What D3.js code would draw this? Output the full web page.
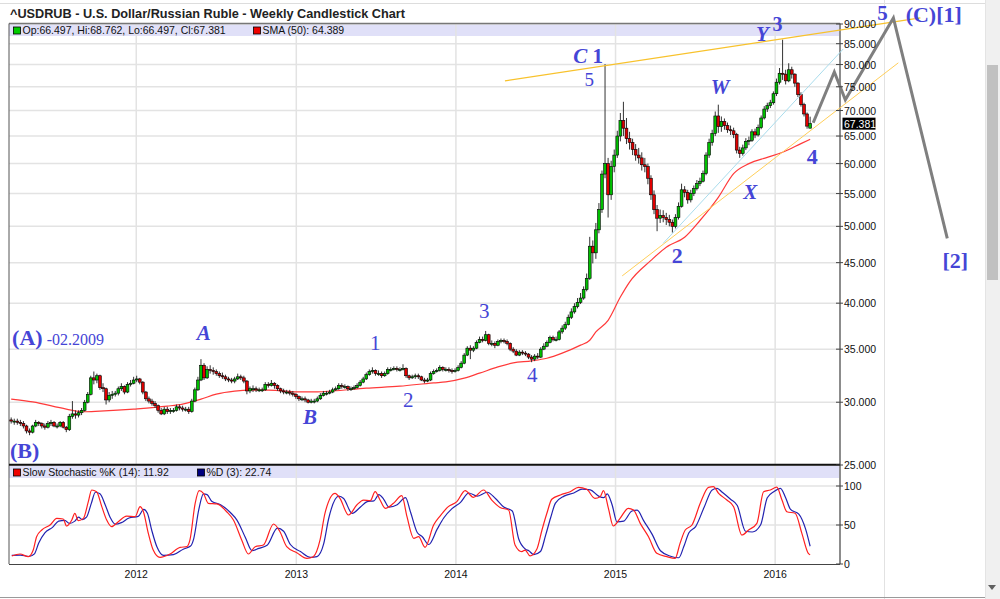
<!DOCTYPE html>
<html><head><meta charset="utf-8">
<script src="https://cdn.jsdelivr.net/npm/d3@7"></script>
<style>html,body{margin:0;padding:0;background:#fff;overflow:hidden}</style>
</head><body>
<svg id="c" width="1000" height="599"></svg>
<script>
// ---------- DATA ----------
const weekStart = Date.UTC(2011, 2, 21); // Monday of first weekly candle
const opens = [
28.5,28.4,28.4,28.3,28.2,28.0,27.6,27.5,28.0,28.3,
28.2,28.0,27.9,28.2,28.3,28.0,28.0,28.3,27.9,27.7,
28.8,29.0,28.9,29.1,29.3,30.0,30.7,32.2,32.0,32.4,
31.3,31.2,30.2,30.6,30.7,30.8,31.2,31.4,30.9,31.6,
31.7,32.0,32.1,31.8,30.9,30.3,30.1,29.9,29.7,29.3,
29.0,29.4,29.2,29.3,29.3,29.6,29.5,29.4,29.4,29.2,
30.1,31.1,32.0,33.4,32.2,33.0,32.9,32.8,32.6,32.4,
32.3,32.1,32.0,31.9,32.1,32.3,32.2,31.9,31.0,31.2,
31.2,31.1,31.1,31.1,31.6,31.5,31.7,31.5,31.2,31.0,
30.9,30.9,30.8,30.7,30.5,30.3,30.3,30.2,30.0,30.1,
30.1,30.3,30.6,30.8,30.8,30.9,31.1,31.2,31.5,31.4,
31.4,31.2,31.2,31.3,31.5,31.8,32.1,32.5,32.8,32.9,
32.6,32.6,32.4,32.6,33.0,33.0,33.1,33.0,33.0,33.1,
32.4,32.2,32.3,32.4,32.3,32.0,31.9,32.0,32.6,32.8,
32.9,33.2,33.0,33.0,32.9,32.8,32.9,33.2,33.6,34.4,
35.1,34.9,35.1,35.7,36.0,35.9,36.5,35.6,35.6,35.4,
35.8,35.9,35.8,35.6,35.0,34.8,34.4,34.7,34.6,34.5,
34.2,34.0,34.3,34.2,35.0,35.3,35.7,36.2,36.0,36.0,
36.8,37.2,37.6,38.4,39.0,39.6,40.1,40.6,41.6,43.0,
47.2,46.3,49.5,52.5,58.2,60.0,54.8,59.5,61.5,65.0,
68.0,66.5,64.5,63.8,62.5,61.5,61.0,59.8,59.5,57.5,
54.8,52.5,51.2,51.6,51.3,51.0,50.6,50.0,51.3,53.0,
55.6,55.2,54.0,55.0,55.8,56.6,57.0,58.3,61.5,63.8,
65.5,68.9,66.8,67.8,67.0,66.2,66.0,65.3,62.4,61.8,
62.8,64.0,64.2,65.8,65.2,66.6,68.5,70.3,71.0,71.6,
73.5,76.0,78.0,77.8,76.3,78.8,77.8,75.8,73.3,71.2,
69.3,66.497];
const highs = [
28.7,28.6,28.6,28.5,28.4,28.1,27.8,28.1,28.5,28.4,
28.3,28.2,28.4,28.5,28.4,28.2,28.4,28.4,28.0,29.0,
30.1,29.3,29.3,29.5,30.2,30.9,32.4,32.8,32.6,32.5,
31.7,31.3,30.9,31.0,31.0,31.4,31.7,31.5,31.8,32.0,
32.3,32.4,32.2,31.9,31.0,30.5,30.3,30.1,29.8,29.5,
29.6,29.6,29.5,29.5,29.8,29.8,29.7,29.6,29.6,30.3,
31.3,32.3,34.0,33.6,33.3,33.4,33.2,33.0,32.8,32.7,
32.5,32.3,32.2,32.3,32.6,32.5,32.4,32.0,31.4,31.5,
31.4,31.3,31.3,31.8,31.8,32.0,31.8,31.6,31.3,31.2,
31.1,31.1,31.0,30.8,30.6,30.5,30.5,30.3,30.3,30.3,
30.5,30.8,31.0,31.0,31.1,31.3,31.4,31.7,31.7,31.6,
31.5,31.4,31.5,31.7,32.0,32.3,32.7,33.0,33.2,33.0,
32.9,32.8,32.8,33.2,33.2,33.3,33.3,33.2,33.5,33.2,
32.5,32.5,32.6,32.6,32.4,32.2,32.2,32.8,33.0,33.1,
33.4,33.3,33.2,33.2,33.1,33.1,33.4,33.8,34.6,35.3,
35.4,35.3,35.9,36.3,36.3,36.9,36.6,35.9,35.8,36.0,
36.1,36.1,36.0,35.7,35.2,35.0,34.9,34.9,34.8,34.6,
34.4,34.5,34.6,35.2,35.6,35.9,36.4,36.4,36.3,37.0,
37.5,37.9,38.7,39.4,40.0,40.6,41.2,42.0,43.6,48.5,
48.0,50.5,53.5,58.8,80.1,61.0,60.5,62.5,66.0,69.5,
71.8,68.5,65.8,64.5,63.5,62.8,62.0,61.0,60.0,58.0,
55.5,53.2,52.5,52.4,52.0,51.7,51.0,51.8,53.6,56.6,
56.2,55.6,55.6,56.3,57.2,57.6,58.8,62.0,64.5,66.2,
69.8,71.2,68.8,68.4,67.6,67.0,66.6,65.6,63.0,63.4,
64.6,64.9,66.3,66.4,67.2,69.0,70.9,71.6,72.2,74.0,
76.8,79.2,86.0,78.8,80.3,79.5,78.0,76.0,73.8,71.6,
69.6,68.762];
const lows = [
28.2,28.1,28.1,28.0,27.8,27.4,27.26,27.4,27.9,28.0,
27.8,27.7,27.8,28.0,27.9,27.8,27.9,27.8,27.5,27.6,
28.6,28.6,28.7,28.9,29.2,29.9,30.6,31.6,31.7,31.1,
30.9,29.8,30.0,30.3,30.5,30.6,31.0,30.7,30.8,31.4,
31.6,31.8,31.6,30.7,30.1,29.9,29.7,29.5,29.1,28.9,
28.9,29.0,29.0,29.1,29.2,29.3,29.2,29.2,29.0,29.1,
30.0,31.0,31.9,32.0,32.1,32.6,32.5,32.4,32.2,32.1,
31.9,31.8,31.7,31.7,32.0,32.0,31.7,30.7,30.8,30.9,
30.9,30.9,30.9,31.0,31.3,31.4,31.2,31.0,30.8,30.7,
30.7,30.6,30.5,30.3,30.1,30.1,30.0,29.9,29.9,29.9,
30.0,30.2,30.5,30.6,30.7,30.8,31.0,31.1,31.2,31.2,
31.0,31.0,31.1,31.2,31.4,31.7,32.0,32.4,32.6,32.4,
32.4,32.2,32.3,32.5,32.8,32.9,32.8,32.8,32.9,32.2,
32.0,32.1,32.1,32.1,31.9,31.7,31.8,31.9,32.5,32.7,
32.8,32.8,32.8,32.7,32.6,32.7,32.8,33.1,33.5,34.3,
34.0,34.7,35.0,35.6,35.7,35.8,35.4,35.3,35.1,35.3,
35.6,35.6,35.4,34.8,34.6,34.3,34.3,34.4,34.3,34.0,
33.7,33.8,34.0,34.1,34.9,35.2,35.6,35.8,35.8,35.9,
36.6,37.0,37.5,38.2,38.8,39.4,39.9,40.4,41.4,42.8,
44.9,45.5,49.0,52.0,57.5,51.3,54.0,58.5,61.0,64.0,
65.0,63.5,62.5,61.5,60.5,60.0,58.8,58.5,56.5,54.0,
51.8,49.3,50.5,50.6,50.2,50.0,49.1,49.7,51.0,52.8,
54.4,53.4,53.6,54.6,55.5,56.2,56.8,58.0,61.0,63.2,
65.0,65.6,65.8,66.2,65.6,65.2,64.6,61.8,61.0,61.4,
62.4,63.3,63.9,64.6,64.9,66.3,68.2,69.7,70.5,71.2,
73.0,75.5,76.5,75.5,76.0,76.8,75.0,72.8,70.8,68.8,
66.4,66.497];
const closes = [
28.4,28.4,28.3,28.2,28.0,27.6,27.5,28.0,28.3,28.2,
28.0,27.9,28.2,28.3,28.0,28.0,28.3,27.9,27.7,28.8,
29.0,28.9,29.1,29.3,30.0,30.7,32.2,32.0,32.4,31.3,
31.2,30.2,30.6,30.7,30.8,31.2,31.4,30.9,31.6,31.7,
32.0,32.1,31.8,30.9,30.3,30.1,29.9,29.7,29.3,29.0,
29.4,29.2,29.3,29.3,29.6,29.5,29.4,29.4,29.2,30.1,
31.1,32.0,33.4,32.2,33.0,32.9,32.8,32.6,32.4,32.3,
32.1,32.0,31.9,32.1,32.3,32.2,31.9,31.0,31.2,31.2,
31.1,31.1,31.1,31.6,31.5,31.7,31.5,31.2,31.0,30.9,
30.9,30.8,30.7,30.5,30.3,30.3,30.2,30.0,30.1,30.1,
30.3,30.6,30.8,30.8,30.9,31.1,31.2,31.5,31.4,31.4,
31.2,31.2,31.3,31.5,31.8,32.1,32.5,32.8,32.9,32.6,
32.6,32.4,32.6,33.0,33.0,33.1,33.0,33.0,33.1,32.4,
32.2,32.3,32.4,32.3,32.0,31.9,32.0,32.6,32.8,32.9,
33.2,33.0,33.0,32.9,32.8,32.9,33.2,33.6,34.4,35.1,
34.9,35.1,35.7,36.0,35.9,36.5,35.6,35.6,35.4,35.8,
35.9,35.8,35.6,35.0,34.8,34.4,34.7,34.6,34.5,34.2,
34.0,34.3,34.2,35.0,35.3,35.7,36.2,36.0,36.0,36.8,
37.2,37.6,38.4,39.0,39.6,40.1,40.6,41.6,43.0,47.2,
46.3,49.5,52.5,58.2,60.0,54.8,59.5,61.5,65.0,68.0,
66.5,64.5,63.8,62.5,61.5,61.0,59.8,59.5,57.5,54.8,
52.5,51.2,51.6,51.3,51.0,50.6,50.0,51.3,53.0,55.6,
55.2,54.0,55.0,55.8,56.6,57.0,58.3,61.5,63.8,65.5,
68.9,66.8,67.8,67.0,66.2,66.0,65.3,62.4,61.8,62.8,
64.0,64.2,65.8,65.2,66.6,68.5,70.3,71.0,71.6,73.5,
76.0,78.0,77.8,76.3,78.8,77.8,75.8,73.3,71.2,69.3,
66.9,67.381];

const smaWeeks  = [0,7,18,23.5,29,40,51,56,62,67,73,78,84,89,94,100,105,116,127,138,142,148,153,159,164,170,175,180,186,189,191,195,199,202,209,214,220,225,231,236,241,247,252,258,261];
const smaValues = [30.27,30.03,29.41,29.18,29.24,29.41,29.66,29.84,30.27,30.71,30.98,31.07,31.07,31.0,30.92,30.92,31.0,31.25,31.43,31.74,31.82,32.17,32.64,33.24,33.63,33.83,34.09,34.6,35.41,35.92,36.79,38.06,40.72,42.53,45.29,47.07,48.45,50.86,54.4,58.28,60.0,61.1,62.0,63.58,64.389];

const stochK = [[0.2,10.3],[2.9,12.8],[5.6,9.4],[7.2,17.9],[8.3,35],[10,43.6],[12.7,50],[14.9,58.5],[17,57.7],[18.1,48.7],[19.8,56.4],[20.8,65],[21.9,55.5],[23.6,58.5],[25.2,80],[26.3,94.9],[27.9,92.7],[29.6,73.5],[31.2,56.4],[32.8,47.9],[35,54.3],[37.7,61.5],[40.5,60.7],[42.1,73.5],[43.2,67],[44.8,39.3],[46.4,17.9],[48.6,8.5],[51.9,12.8],[55.2,21.4],[57.4,22.2],[58.4,30.8],[60.1,77.8],[61.4,94],[62.8,90.6],[64.4,77.8],[67.2,77],[70.4,67],[72.6,56.4],[75.3,30.8],[77.5,12.8],[79.7,22.2],[82.4,24.4],[85.7,51.3],[87.8,41.4],[90,22.2],[93.3,14.5],[96.6,7.3],[98.7,9.4],[100.9,30.8],[102.5,65],[105.8,90.6],[107.4,84.2],[110.2,62.8],[112.9,75.6],[115.1,82],[117.3,81.2],[118.9,92.7],[120.5,82],[122.2,71.4],[124.9,77.8],[127.6,87.6],[129.3,60.7],[131.5,32.9],[133.1,35],[135.2,21.4],[138,50],[140.1,61.5],[142.8,73.5],[145.6,80],[148.3,94],[151,85.5],[154.3,94.9],[157,82],[159.7,72.5],[162.5,69.2],[164.6,24.4],[166.8,15.8],[167.9,17.9],[169.5,10.3],[171.7,18.8],[173.4,43.6],[175,65],[176.6,83],[179.4,88.5],[182.6,92.7],[185.3,98.3],[188,95.8],[190.7,84.2],[192.4,86.3],[193.5,94],[195.1,71.4],[196.7,48.7],[198.9,58.5],[201.6,71.4],[203.3,69.2],[205.5,52.1],[208.2,35],[210.9,13.7],[214.2,9.4],[216.9,7.3],[218.5,26.5],[220.2,43.6],[222.4,50],[225.1,77.8],[227.8,98.3],[229.4,99.1],[231.1,90.6],[233.8,82],[236,73.5],[238.7,37.2],[240.9,43.6],[243.6,52.1],[245.8,92.7],[248,94.9],[250.1,98.5],[251.8,82],[253.4,67],[256.1,65],[258.3,39.3],[260.4,13.7],[261,11.92]];
const stochD = [[0.2,11],[3,11.5],[5.8,9.6],[7.6,13],[9,27],[11,40],[13.5,47],[15.5,55],[17.5,56],[19,52],[20.8,55],[22,60],[23.2,57],[24.6,60],[26.2,78],[27.5,92],[29,90],[30.8,75],[32.3,60],[34,51],[36,53],[38.5,59],[41.5,61],[43.3,70],[44.5,65],[46,42],[47.6,22],[49.8,11],[53,12],[56.2,19],[58.6,23],[59.6,32],[61.3,70],[62.8,90],[64,89],[65.6,80],[68.4,76],[71.6,66],[73.8,56],[76.5,34],[78.7,17],[80.9,20],[83.6,24],[87,46],[89,42],[91.2,25],[94.5,16],[97.8,8.5],[99.9,9.5],[102.1,26],[103.7,58],[107,87],[108.6,84],[111.4,65],[114.1,73],[116.3,80],[118.5,81],[120.1,89],[121.7,83],[123.4,73],[126.1,76],[128.8,85],[130.5,66],[132.7,40],[134.3,35],[136.4,25],[139.2,45],[141.3,59],[144,71],[146.8,79],[149.5,91],[152.2,87],[155.5,92],[158.2,84],[160.9,73],[163.7,68],[165.8,32],[168,19],[169.1,17],[170.7,12],[172.9,16],[174.6,37],[176.2,59],[177.8,78],[180.6,87],[183.8,91],[186.5,96],[189.2,95],[191.9,87],[193.6,85],[194.7,90],[196.3,76],[197.9,54],[200.1,55],[202.8,68],[204.5,69],[206.7,55],[209.4,38],[212.1,17],[215.4,10],[218.1,8],[219.7,22],[221.4,40],[223.6,48],[226.3,72],[229,95],[230.6,97],[232.3,92],[235,83],[237.2,75],[239.9,42],[242.1,41],[244.8,50],[247,85],[249.2,93],[251.3,97],[253,85],[254.6,70],[257.3,64],[259.5,45],[261,22.74]];

const priceTicks = [25,30,35,40,45,50,55,60,65,70,75,80,85,90];
const stochTicks = [0,50,100];
const yearTicks = [2012,2013,2014,2015,2016];

// overlay lines in (week index, price)
const topLine = [[161.3,76.3],[297,91.6]];
const supportLine = [[199.6,43.3],[289.8,80.4]];
const channelLine = [[213,47.6],[271.8,83.7]];
const projection = [[262,67.56],[268.9,78.3],[272.5,72.2],[288.2,91.6],[305.8,48.3]];

const waveLabels = [
 {w:0.3, p:35.4, a:'start', parts:[['(A)',22,'bold','normal'],[' -02.2009',16,'normal','normal']]},
 {w:62.9, p:35.9, a:'middle', parts:[['A',21,'bold','italic']]},
 {w:-0.4, p:25.5, a:'start', parts:[['(B)',22,'bold','normal']]},
 {w:97.6, p:28.15, a:'middle', parts:[['B',21,'bold','italic']]},
 {w:118.9, p:34.9, a:'middle', parts:[['1',21,'normal','normal']]},
 {w:129.7, p:29.58, a:'middle', parts:[['2',21,'normal','normal']]},
 {w:154.5, p:38.28, a:'middle', parts:[['3',21,'normal','normal']]},
 {w:170.2, p:31.8, a:'middle', parts:[['4',21,'normal','normal']]},
 {w:188.5, p:80.4, a:'middle', parts:[['C',21,'bold','italic'],[' 1',21,'bold','normal']]},
 {w:188.8, p:75.2, a:'middle', parts:[['5',19,'normal','normal']]},
 {w:231.6, p:73.5, a:'middle', parts:[['W',21,'bold','italic']]},
 {w:241.4, p:54.2, a:'middle', parts:[['X',21,'bold','italic']]},
 {w:245.4, p:85.7, a:'middle', parts:[['Y',21,'bold','italic']]},
 {w:250.3, p:88.2, a:'middle', parts:[['3',20,'bold','normal']]},
 {w:217.6, p:45.0, a:'middle', parts:[['2',22,'bold','normal']]},
 {w:261.7, p:60.0, a:'middle', parts:[['4',22,'bold','normal']]},
 {w:284.6, p:91.1, a:'middle', parts:[['5',21,'bold','normal']]},
 {w:292.2, p:90.5, a:'start', parts:[['(C)[1]',22,'bold','normal']]},
 {w:308.4, p:44.25, a:'middle', parts:[['[2]',22,'bold','normal']]}
];

// ---------- LAYOUT ----------
const svg = d3.select('#c');
const plotL = 9, plotR = 839, mainTop = 24, mainBot = 465, stTop = 486, stBot = 564;
const sans = "'Liberation Sans', Arial, sans-serif";
const serif = "'Liberation Serif', 'Times New Roman', serif";
const x = d3.scaleUtc().domain([Date.UTC(2011,2,16), Date.UTC(2016,4,26)]).range([plotL, plotR]);
const y = d3.scaleLog().domain([25, 90]).range([mainBot, mainTop]);
const ys = d3.scaleLinear().domain([0, 100]).range([stBot, stTop]);
const wk = i => new Date(weekStart + i * 7 * 864e5);
const px = i => x(wk(i));

svg.append('rect').attr('width',1000).attr('height',599).attr('fill','#fff');
// frame decorations
svg.append('line').attr('x1',0).attr('x2',985).attr('y1',3.5).attr('y2',3.5).attr('stroke','#ddd');
svg.append('line').attr('x1',884.5).attr('x2',884.5).attr('y1',0).attr('y2',599).attr('stroke','#e2e2e2');
svg.append('rect').attr('x',985).attr('y',0).attr('width',15).attr('height',599).attr('fill','#f0f0f0');
svg.append('line').attr('x1',985.5).attr('x2',985.5).attr('y1',0).attr('y2',599).attr('stroke','#e4e4e4');
svg.append('rect').attr('x',987).attr('y',65).attr('width',11).attr('height',215).attr('fill','#c1c1c1');
svg.append('path').attr('d','M988,585 L996,585 L992,590 Z').attr('fill','#606060');
svg.append('line').attr('x1',0).attr('x2',985).attr('y1',597.5).attr('y2',597.5).attr('stroke','#9a9a9a');

// title
svg.append('text').attr('x',10).attr('y',17.5).attr('font-family',sans).attr('font-weight','bold')
  .attr('font-size',12.7).attr('fill','#222').text('^USDRUB - U.S. Dollar/Russian Ruble - Weekly Candlestick Chart');

// bands
svg.append('rect').attr('x',plotL).attr('y',mainTop).attr('width',plotR-plotL).attr('height',12).attr('fill','#e0e0f8');
svg.append('rect').attr('x',plotL).attr('y',466).attr('width',plotR-plotL).attr('height',12).attr('fill','#e0e0f8');

// gridlines
const grid = svg.append('g').attr('stroke','#e3e3e3').attr('stroke-width',1.5);
priceTicks.forEach(t => grid.append('line').attr('x1',plotL).attr('x2',plotR).attr('y1',y(t)).attr('y2',y(t)));
[50,100].forEach(t => grid.append('line').attr('x1',plotL).attr('x2',plotR).attr('y1',ys(t)).attr('y2',ys(t)));
yearTicks.forEach(yr => {
  const xx = x(new Date(Date.UTC(yr,0,1)));
  grid.append('line').attr('x1',xx).attr('x2',xx).attr('y1',mainTop).attr('y2',mainBot);
  grid.append('line').attr('x1',xx).attr('x2',xx).attr('y1',466).attr('y2',stBot);
});

// borders
svg.append('line').attr('x1',plotL).attr('x2',plotR+1).attr('y1',23.5).attr('y2',23.5).attr('stroke','#777').attr('stroke-width',1.5);
svg.append('line').attr('x1',plotL).attr('x2',plotL).attr('y1',23.5).attr('y2',stBot).attr('stroke','#555');
svg.append('line').attr('x1',plotR+1).attr('x2',plotR+1).attr('y1',23.5).attr('y2',stBot).attr('stroke','#666').attr('stroke-width',1.5);
svg.append('line').attr('x1',plotL).attr('x2',plotR+1).attr('y1',464.8).attr('y2',464.8).attr('stroke','#111').attr('stroke-width',2);
svg.append('line').attr('x1',plotL).attr('x2',plotR+1).attr('y1',stBot+0.5).attr('y2',stBot+0.5).attr('stroke','#444');

// SMA
const smaPts = smaWeeks.map((w,i)=>[px(w), y(smaValues[i])]);
svg.append('path').attr('d', d3.line().curve(d3.curveMonotoneX)(smaPts))
  .attr('fill','none').attr('stroke','#ff3a3a').attr('stroke-width',1.2);

// candles
const cg = svg.append('g');
closes.forEach((c,i) => {
  const o = opens[i], cx = px(i);
  cg.append('line').attr('x1',cx).attr('x2',cx).attr('y1',y(highs[i])).attr('y2',y(lows[i]))
    .attr('stroke','#333').attr('stroke-width',1);
  const top = y(Math.max(o,c)), bot = y(Math.min(o,c));
  const h = Math.max(1, bot - top);
  cg.append('rect').attr('x',cx-1.4).attr('y',top).attr('width',2.8).attr('height',h)
    .attr('fill', c >= o ? '#00c000' : '#e00000').attr('stroke','#000').attr('stroke-width',0.6);
});

// overlays
const ln = d3.line().x(d=>px(d[0])).y(d=>y(d[1]));
svg.append('path').attr('d',ln(topLine)).attr('fill','none').attr('stroke','#f8c22c').attr('stroke-width',1.3);
svg.append('path').attr('d',ln(supportLine)).attr('fill','none').attr('stroke','#ffcf5a').attr('stroke-width',1);
svg.append('path').attr('d',ln(channelLine)).attr('fill','none').attr('stroke','#a9dcec').attr('stroke-width',1);
svg.append('path').attr('d',ln(projection)).attr('fill','none').attr('stroke','#7f7f7f').attr('stroke-width',3);

// stochastic
const sl = d3.line().curve(d3.curveMonotoneX).x(d=>px(d[0])).y(d=>ys(d[1]));
svg.append('path').attr('d',sl(stochD)).attr('fill','none').attr('stroke','#2222b0').attr('stroke-width',1.2);
svg.append('path').attr('d',sl(stochK)).attr('fill','none').attr('stroke','#ff2020').attr('stroke-width',1.2);

// legends
function legend(sx, sy, color, label){
  svg.append('rect').attr('x',sx).attr('y',sy-6.5).attr('width',7).attr('height',7).attr('fill',color).attr('stroke','#000').attr('stroke-width',0.8);
  svg.append('text').attr('x',sx+9).attr('y',sy).attr('font-family',sans).attr('font-size',10.5).attr('fill','#111').text(label);
}
legend(13.5, 33.5, '#00cc00', 'Op:66.497, Hi:68.762, Lo:66.497, Cl:67.381');
legend(253.5, 33.5, '#ee0000', 'SMA (50): 64.389');
legend(13.5, 475.5, '#ee0000', 'Slow Stochastic %K (14): 11.92');
legend(197.5, 475.5, '#000080', '%D (3): 22.74');

// price axis
const ax = svg.append('g').attr('font-family',sans).attr('font-size',10.5).attr('fill','#111');
priceTicks.forEach(t => {
  ax.append('line').attr('x1',836).attr('x2',843).attr('y1',y(t)).attr('y2',y(t)).attr('stroke','#444');
  ax.append('text').attr('x',844).attr('y',y(t)+4).text(d3.format('.3f')(t));
});
stochTicks.forEach(t => {
  ax.append('line').attr('x1',836).attr('x2',843).attr('y1',ys(t)).attr('y2',ys(t)).attr('stroke','#444');
  ax.append('text').attr('x',844).attr('y',ys(t)+4).text(t);
});
yearTicks.forEach(yr => {
  ax.append('text').attr('x',x(new Date(Date.UTC(yr,0,1)))).attr('y',578).attr('text-anchor','middle').text(yr);
});
// last price marker
const lastY = y(closes[closes.length-1]);
svg.append('rect').attr('x',842.5).attr('y',lastY-6).attr('width',33).attr('height',12).attr('fill','#000');
svg.append('text').attr('x',844).attr('y',lastY+4).attr('font-family',sans).attr('font-size',10.5).attr('fill','#fff')
  .text(d3.format('.3f')(closes[closes.length-1]));

// wave labels
waveLabels.forEach(l => {
  const t = svg.append('text').attr('x',px(l.w)).attr('y',y(l.p)).attr('text-anchor',l.a)
    .attr('font-family',serif).attr('fill','#4545d6');
  l.parts.forEach(p => t.append('tspan').attr('font-size',p[1]).attr('font-weight',p[2]).attr('font-style',p[3])
    .attr('xml:space','preserve').text(p[0]));
});
</script>
</body></html>
